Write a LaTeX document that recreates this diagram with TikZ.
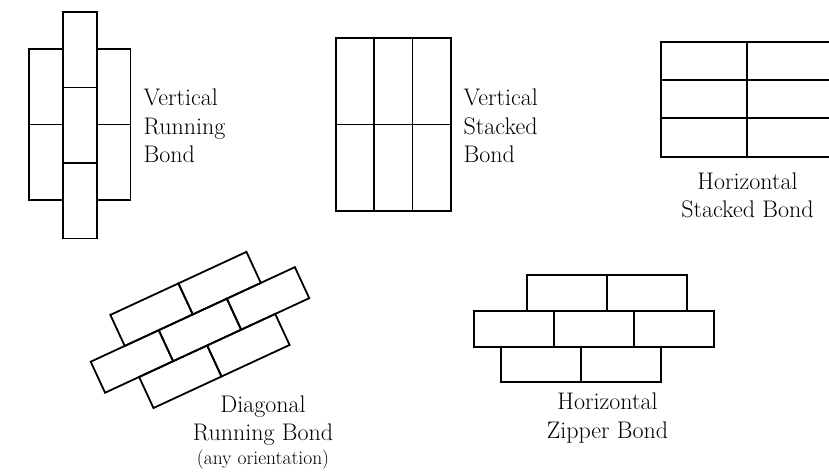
\documentclass[tikz,border=0pt]{standalone}
\usepackage{fontspec}
\usepackage{tikz}
\usetikzlibrary{calc}

\newcommand{\bondfont}{\fontsize{24}{28.5}\selectfont}
\newcommand{\notefont}{\fontsize{19.5}{22}\selectfont}

\begin{document}
\begin{tikzpicture}[x=1pt,y=-1pt,
	brick/.style={draw, line width=1.8pt},
	bondlabel/.style={font=\bondfont, inner sep=0pt}]
	
	\useasboundingbox (0,0) rectangle (829,476);
	
	% vertical running
	\foreach \y in {12,87.5,163}
		\draw[brick] (63,\y) rectangle ++(34,75.5);
	\foreach \x in {29,97}
		\foreach \y in {49,124.5}
			\draw[brick] (\x,\y) rectangle ++(33.5,75.5);
	\node[bondlabel, anchor=base west, align=left] (vrb) at (143.5,162.7) {Vertical\\Running\\Bond};
	
	% vertical stacked
	\foreach \x in {336,374.2,412.4}
		\foreach \y in {38.3,124.5}
			\draw[brick] (\x,\y) rectangle ++(38.2,86.2);
	\node[bondlabel, anchor=base west, align=left] (vsb) at (463.5,162.7) {Vertical\\Stacked\\Bond};
	
	% horizontal stacked
	\foreach \x in {660.7,747.3}
		\foreach \y in {41.7,80,118.3}
			\draw[brick] (\x,\y) rectangle ++(86.6,38.3);
	\node[bondlabel, anchor=base, align=center] (hsb) at (747.5,217.7) {Horizontal\\Stacked Bond};
	
	% diagonal running
	\begin{scope}[shift={(90.7,361.7)}, rotate=24.85]
		\foreach \x in {0,75,150}
			\draw[brick] (\x,0) rectangle ++(75,34.2);
		\foreach \x in {37.5,112.5}
			\foreach \y in {-34.2,34.2}
				\draw[brick] (\x,\y) rectangle ++(75,34.2);
	\end{scope}
	\node[bondlabel, anchor=base, align=center] (drb) at (263,464) {Diagonal\\Running Bond\\[-5pt]{\notefont (any orientation)}};
	
	% horizontal zipper
	\foreach \x in {527.3,607.3}
		\draw[brick] (\x,275) rectangle ++(80,36);
	\foreach \x in {474,554,634}
		\draw[brick] (\x,311) rectangle ++(80,35.7);
	\foreach \x in {500.7,580.7}
		\draw[brick] (\x,346.7) rectangle ++(80,35.6);
	\node[bondlabel, anchor=base, align=center] (hzb) at (607.5,438.3) {Horizontal\\Zipper Bond};
	
\end{tikzpicture}
\end{document}
